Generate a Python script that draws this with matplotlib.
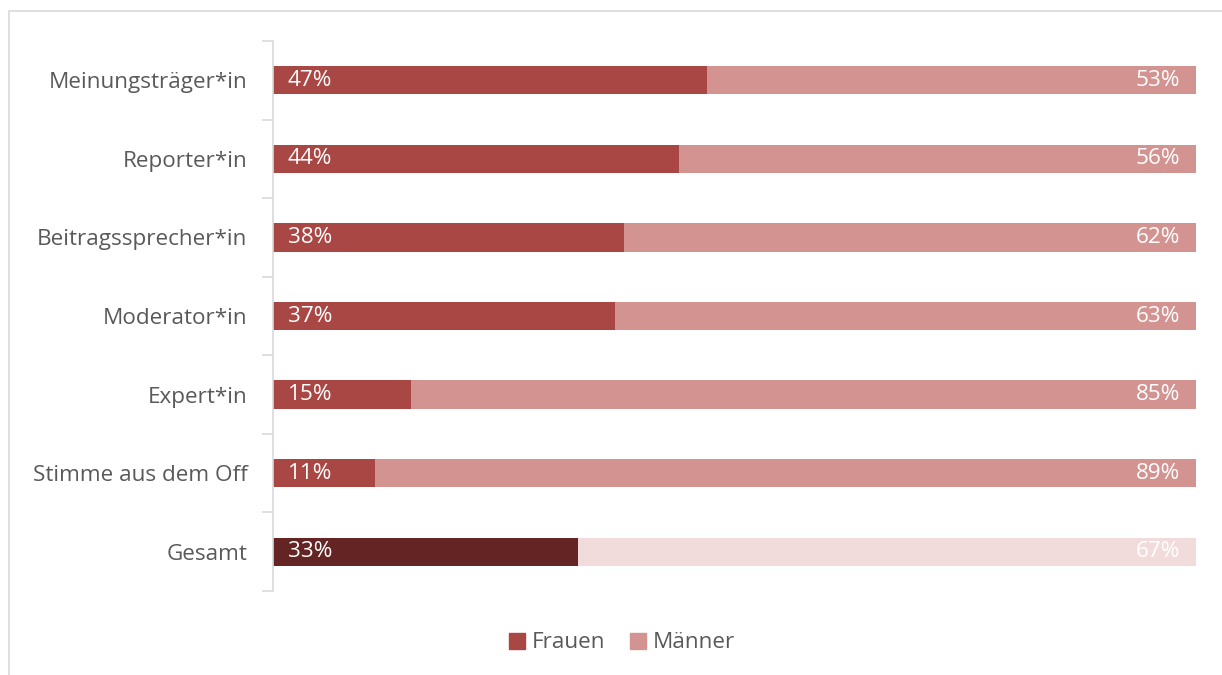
import numpy as np
import matplotlib.pyplot as plt
from matplotlib.patches import Rectangle

plt.rcParams['font.family'] = ['Open Sans', 'DejaVu Sans']

# Anteile nach Rolle
rollen = ["Meinungsträger*in", "Reporter*in", "Beitragssprecher*in",
          "Moderator*in", "Expert*in", "Stimme aus dem Off", "Gesamt"]
frauen = [47, 44, 38, 37, 15, 11, 33]
maenner = [53, 56, 62, 63, 85, 89, 67]

c_frauen = "#A94744"
c_maenner = "#D39391"
c_gesamt_f = "#632423"
c_gesamt_m = "#F2DCDB"

fs = 16.2

fig = plt.figure(figsize=(12.22, 6.75), dpi=100)
ax = fig.add_axes([273 / 1222, 1 - 591 / 675, (1196 - 273) / 1222, 550 / 675])

# Rahmen
fig.patches.append(Rectangle((9 / 1222, -0.1), 1.2, 1 - 11 / 675 + 0.1,
                             transform=fig.transFigure, fill=False,
                             edgecolor="#D9D9D9", linewidth=1.2))

y = np.arange(len(rollen))
col_f = [c_frauen] * (len(rollen) - 1) + [c_gesamt_f]
col_m = [c_maenner] * (len(rollen) - 1) + [c_gesamt_m]

ax.barh(y, frauen, height=0.36, color=col_f, label="Frauen")
ax.barh(y, maenner, left=frauen, height=0.36, color=col_m, label="Männer")

for i in range(len(rollen)):
    ax.text(1.6, y[i], f"{frauen[i]}%", color="white", fontsize=fs,
            va="center", ha="left")
    ax.text(100 - 1.7, y[i], f"{maenner[i]}%", color="white", fontsize=fs,
            va="center", ha="right")

ax.set_xlim(0, 100)
ax.set_ylim(len(rollen) - 0.5, -0.5)
ax.set_xticks([])
ax.set_yticks(y)
ax.set_yticklabels(rollen, fontsize=fs, color="#595959")
ax.tick_params(axis="y", which="major", length=0, pad=18.5)
ax.set_yticks(np.arange(-0.5, len(rollen)), minor=True)
ax.tick_params(axis="y", which="minor", length=8, color="#D9D9D9", width=1.2)

for s in ["top", "right", "bottom"]:
    ax.spines[s].set_visible(False)
ax.spines["left"].set_color("#D9D9D9")
ax.spines["left"].set_linewidth(1.2)

h1 = Rectangle((0, 0), 1, 1, color=c_frauen)
h2 = Rectangle((0, 0), 1, 1, color=c_maenner)
fig.legend([h1, h2], ["Frauen", "Männer"], loc="center",
           bbox_to_anchor=(622 / 1222, 1 - 643 / 675), ncol=2, frameon=False,
           fontsize=fs, labelcolor="#595959", handlelength=0.7,
           handleheight=0.7, handletextpad=0.3, columnspacing=1.1)

fig.savefig("out.png", dpi=100)
